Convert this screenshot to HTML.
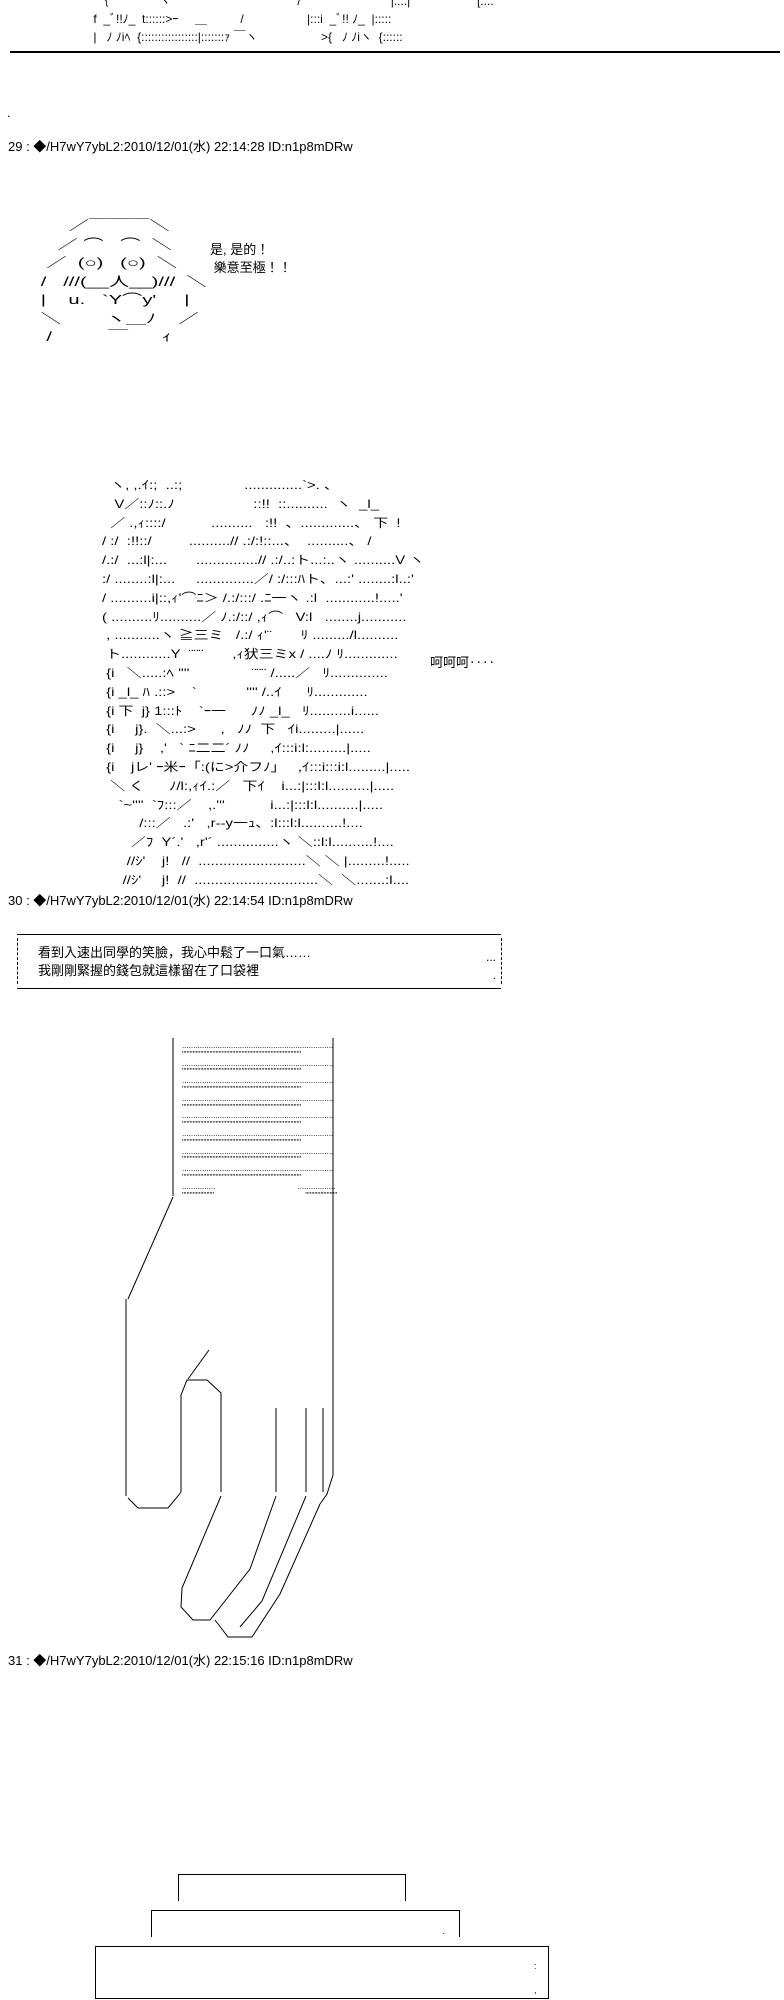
<!DOCTYPE html>
<html><head><meta charset="utf-8">
<style>
html,body{margin:0;padding:0;background:#fff;}
body{width:784px;height:2000px;position:relative;overflow:hidden;font-family:"Liberation Sans","Noto Sans CJK JP",sans-serif;color:#000;}
.a{position:absolute;white-space:pre;font-size:12px;line-height:18px;margin:0;font-family:"Liberation Sans","Noto Sans CJK JP",sans-serif;}
.h{position:absolute;left:8px;font-size:13px;white-space:pre;}
svg{position:absolute;left:0;top:0;}
</style></head><body>

<div class="a" style="left:90px;top:-8px;">  ｛               ヽ                                      /                           |:::.|                    [:...
 f  _ﾞ!!ﾉ_  t::::::&gt;ｰ     ＿          /                   |:::i  _ﾞ!! ﾉ_  |:::::
 |   ﾉ ﾉiﾍ  {:::::::::::::::::|:::::::ｧ ￣ヽ                   &gt;{   ﾉ ﾉiヽ  {::::::</div>
<div style="position:absolute;left:10px;top:51px;width:770px;height:2px;background:#000;"></div>

<div class="a" style="left:7px;top:104px;">.</div>
<div class="h" style="top:136px;">29 : ◆/H7wY7ybL2:2010/12/01(水) 22:14:28 ID:n1p8mDRw</div>

<div class="a" style="left:24px;top:217px;font-size:13px;line-height:18.5px;transform:scaleX(1.55);transform-origin:0 0;">        ／￣￣￣＼
      ／ ⌒   ⌒  ＼
    ／  (○)   (○)  ＼
   /   ///(__人__)///  ＼
   |    u.   `Y⌒y'     |
   ＼        ヽ＿ﾉ    ／
    /          ￣      ｨ</div>
<div class="a" style="left:210px;top:241px;font-size:13px;">是, 是的！
 樂意至極！！</div>

<div class="a" style="left:102px;top:476px;line-height:18.8px;transform:scaleX(1.24);transform-origin:0 0;">  ヽ, ,.ｲ:;  ..:;               ..............`&gt;. 、
   V／::ﾉ::.ﾉ                   ::!!  ::..........  ヽ  _l_
  ／ .,ｨ::::/           ..........   :!!  、.............、 下  !
/ :/  :!!::/         ..........// .:/:!::...、  ..........、 /
/.:/  ...:l|:...       ...............// .:/..:ト...:..ヽ ..........V ヽ
:/ ........:l|:...     ..............／/ :/:::ﾊト、...:' ........:l..:'
/ ..........i|::,ｨ'⌒ﾆ＞ /.:/:::/ .ﾆ一ヽ .:l  ............!.....'
( ..........ﾘ..........／ ﾉ.:/::/ ,ｨ⌒   V:l   ........j...........
 , ...........ヽ ≧三ミ   /.:/ ｨ'¨       ﾘ ........./l..........
 ト............Y  ¨¨¨       ,ｨ犾三ミx / ....ﾉ ﾘ.............
 {i   ＼.....:ﾍ ''''               ¨¨¨ /.....／   ﾘ..............
 {i _l_ ﾊ .::&gt;    `            '''' /..ｲ      ﾘ.............
 {i 下  j} 1:::ﾄ    `ｰ一      ﾉﾉ _l_   ﾘ..........i......
 {i     j}.  ＼...:&gt;      ,   ﾉﾉ  下   ｲi.........|......
 {i     j}    ,'   ` ﾆ二二´ ﾉﾉ     ,ｲ:::i:l:.........|.....
 {i    jレ' ｰ米ｰ「:(に&gt;介フﾉ」   ,ｲ:::i:::i:l.........|.....
  ＼ く      ﾉ/l:,ｨｲ.:／   下ｲ    i...:|:::l:l..........|.....
    `~''''  `ﾌ:::／    ,.'''           i...:|:::l:l..........|.....
         /:::／   .:'   ,r‐‐y一ｭ、:l:::l:l..........!....
       ／ﾌ  Y´.'   ,r'´ ...............ヽ ＼::l:l..........!....
      //ｼ'    j!   //  ..........................＼ ＼ |.........!.....
     //ｼ'     j!  //  ..............................＼  ＼.......:l....</div>
<div class="a" style="left:430px;top:654px;font-size:13px;">呵呵呵‥‥</div>

<div class="h" style="top:890px;">30 : ◆/H7wY7ybL2:2010/12/01(水) 22:14:54 ID:n1p8mDRw</div>

<div style="position:absolute;left:17px;top:934px;width:484px;height:53px;border-top:1px solid #000;border-bottom:1px solid #000;"></div>
<div style="position:absolute;left:17px;top:938px;width:0;height:46px;border-left:1px dashed #000;"></div>
<div style="position:absolute;left:501px;top:938px;width:0;height:46px;border-left:1px dashed #000;"></div>
<div class="a" style="left:38px;top:944px;font-size:13px;">看到入速出同學的笑臉，我心中鬆了一口氣……
我剛剛緊握的錢包就這樣留在了口袋裡</div>
<div class="a" style="left:486px;top:948px;">...
  .</div>

<!-- hand -->
<svg width="784" height="2000" viewBox="0 0 784 2000">
<g stroke="#000" stroke-width="1" fill="none">
<line x1="173" y1="1038" x2="173" y2="1196"/>
<line x1="333" y1="1038" x2="333" y2="1475"/>
<line x1="173" y1="1197" x2="128" y2="1299"/>
<line x1="126" y1="1299" x2="126" y2="1496"/>
<path d="M128 1498 L138 1508 L168 1508 L178 1496 L181 1492"/>
<path d="M181 1492 L181 1395 L187 1380 L207 1380 L221 1393 L221 1492"/>
<line x1="188" y1="1379" x2="209" y2="1350"/>
<line x1="276" y1="1408" x2="276" y2="1492"/>
<line x1="306" y1="1408" x2="306" y2="1492"/>
<line x1="323" y1="1408" x2="323" y2="1492"/>
<path d="M333 1475 L327 1494 L320 1504"/>
<path d="M221 1496 L182 1588 L181 1607 L193 1620 L210 1620 L250 1569 L276 1496"/>
<path d="M306 1496 L262 1601 L240 1627"/>
<path d="M320 1504 L280 1594 L252 1637 L228 1637 L215 1620"/>
</g>
</svg>
<div class="a" style="left:182px;top:1042px;font-size:8px;line-height:8.8px;letter-spacing:0px;">....................................................................
''''''''''''''''''''''''''''''''''''''''''''''''''''''''''''''''''''''''''''''
....................................................................
''''''''''''''''''''''''''''''''''''''''''''''''''''''''''''''''''''''''''''''
....................................................................
''''''''''''''''''''''''''''''''''''''''''''''''''''''''''''''''''''''''''''''
....................................................................
''''''''''''''''''''''''''''''''''''''''''''''''''''''''''''''''''''''''''''''
....................................................................
''''''''''''''''''''''''''''''''''''''''''''''''''''''''''''''''''''''''''''''
....................................................................
''''''''''''''''''''''''''''''''''''''''''''''''''''''''''''''''''''''''''''''
....................................................................
''''''''''''''''''''''''''''''''''''''''''''''''''''''''''''''''''''''''''''''
....................................................................
''''''''''''''''''''''''''''''''''''''''''''''''''''''''''''''''''''''''''''''
...............                                     .................
'''''''''''''''''''''                                         '''''''''''''''''''''</div>

<div class="h" style="top:1650px;">31 : ◆/H7wY7ybL2:2010/12/01(水) 22:15:16 ID:n1p8mDRw</div>

<div style="position:absolute;left:178px;top:1874px;width:226px;height:26px;border-top:1px solid #000;border-left:1px solid #000;border-right:1px solid #000;"></div>
<div style="position:absolute;left:151px;top:1910px;width:307px;height:26px;border-top:1px solid #000;border-left:1px solid #000;border-right:1px solid #000;"></div>
<div style="position:absolute;left:95px;top:1946px;width:452px;height:51px;border:1px solid #000;"></div>
<div class="a" style="left:442px;top:1922px;font-size:9px;">.</div>
<div class="a" style="left:534px;top:1960px;font-size:9px;line-height:12px;">:

,</div>
</body></html>
